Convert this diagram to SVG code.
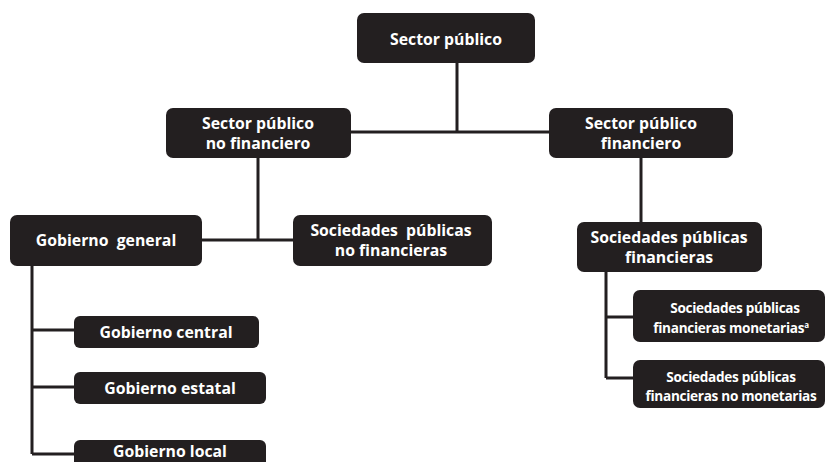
<svg xmlns="http://www.w3.org/2000/svg" width="827" height="462" viewBox="0 0 827 462">
  <style>
    .box { fill: #231f20; }
    .lbl { fill: #ffffff; font-family: "Open Sans", "Noto Sans", sans-serif; font-weight: bold; font-size: 15.8px; text-anchor: middle; }
    .sm { font-size: 13.6px; letter-spacing: -0.3px; }
    .wire { stroke: #231f20; stroke-width: 3; fill: none; }
  </style>
  <rect width="827" height="462" fill="#ffffff"/>

  <!-- connectors -->
  <g id="connectors">
    <path class="wire" d="M457 63 V132 M351 132 H549"/>
    <path class="wire" d="M258 158 V240 M202 240 H293"/>
    <path class="wire" d="M32 266 V454 M32 330 H74 M32 387 H74 M32 454 H74"/>
    <path class="wire" d="M641 158 V222"/>
    <path class="wire" d="M606 272 V378 M606 317 H633 M606 378 H633"/>
  </g>

  <g id="sector-publico">
    <rect class="box" x="357" y="13" width="178" height="50" rx="7"/>
    <text class="lbl" x="446" y="45">Sector público</text>
  </g>

  <g id="sp-no-financiero">
    <rect class="box" x="166" y="108" width="185" height="50" rx="7"/>
    <text class="lbl" x="258" y="129">Sector público</text>
    <text class="lbl" x="258" y="149">no financiero</text>
  </g>

  <g id="sp-financiero">
    <rect class="box" x="549" y="108" width="184" height="50" rx="7"/>
    <text class="lbl" x="641" y="129">Sector público</text>
    <text class="lbl" x="641" y="149">financiero</text>
  </g>

  <g id="gobierno-general">
    <rect class="box" x="10" y="215" width="192" height="51" rx="7"/>
    <text class="lbl" x="106" y="246" xml:space="preserve">Gobierno  general</text>
  </g>

  <g id="soc-no-financieras">
    <rect class="box" x="293" y="215" width="199" height="51" rx="7"/>
    <text class="lbl" x="391" y="236" xml:space="preserve">Sociedades  públicas</text>
    <text class="lbl" x="391" y="256">no financieras</text>
  </g>

  <g id="soc-financieras">
    <rect class="box" x="577" y="222" width="185" height="50" rx="7"/>
    <text class="lbl" x="669" y="243">Sociedades públicas</text>
    <text class="lbl" x="669" y="263">financieras</text>
  </g>

  <g id="gobierno-central">
    <rect class="box" x="74" y="316" width="185" height="32" rx="6"/>
    <text class="lbl" x="166" y="338">Gobierno central</text>
  </g>

  <g id="gobierno-estatal">
    <rect class="box" x="74" y="372" width="192" height="32" rx="6"/>
    <text class="lbl" x="170" y="394">Gobierno estatal</text>
  </g>

  <g id="gobierno-local">
    <rect class="box" x="74" y="440" width="192" height="32" rx="6"/>
    <text class="lbl" x="170" y="457">Gobierno local</text>
  </g>

  <g id="spf-monetarias">
    <rect class="box" x="633" y="290" width="192" height="52" rx="7"/>
    <text class="lbl sm" x="735" y="313">Sociedades públicas</text>
    <text class="lbl sm" x="731" y="333">financieras monetarias<tspan font-size="8" dy="-5">a</tspan></text>
  </g>

  <g id="spf-no-monetarias">
    <rect class="box" x="633" y="360" width="192" height="48" rx="7"/>
    <text class="lbl sm" x="731" y="382">Sociedades públicas</text>
    <text class="lbl sm" x="731" y="401">financieras no monetarias</text>
  </g>
</svg>
